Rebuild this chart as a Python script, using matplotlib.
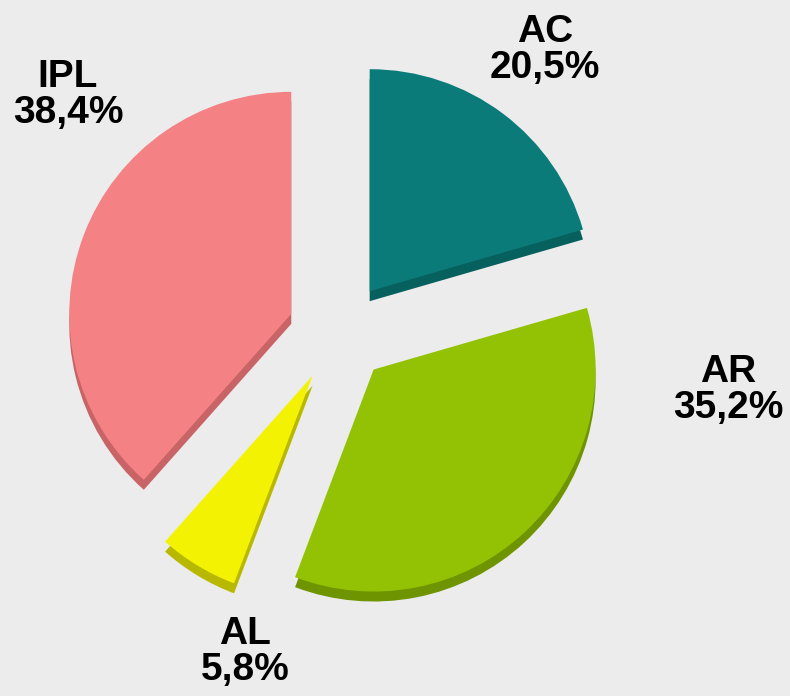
import matplotlib.pyplot as plt
import numpy as np

labels = ['AC', 'AR', 'AL', 'IPL']
values = [20.5, 35.2, 5.8, 38.4]
value_text = ['20,5%', '35,2%', '5,8%', '38,4%']
colors = ['#0b7b79', '#93c204', '#f2f202', '#f48284']
side_colors = ['#06605e', '#6e9400', '#b8b800', '#c86466']

# label positions in pixels (x, y from top)
label_pos = [(545, 50), (728, 390), (245, 652), (68, 95)]

W, H = 790, 696
cx, cy, R = 339, 332, 222

fig = plt.figure(figsize=(W / 100, H / 100), dpi=100)
fig.patch.set_facecolor('#ececec')
ax = fig.add_axes([0, 0, 1, 1])
ax.set_facecolor('#ececec')
ax.set_xlim(-cx / R, (W - cx) / R)
ax.set_ylim(-(H - cy) / R, cy / R)
ax.set_aspect('equal')
ax.axis('off')

explode = [0.23] * len(values)

# side (thickness) of the 3d pie
ax.pie(values, explode=explode, colors=side_colors, startangle=90,
       counterclock=False, radius=1.0, center=(0, -0.045), frame=True)
# top face
ax.pie(values, explode=explode, colors=colors, startangle=90,
       counterclock=False, radius=1.0, center=(0, 0), frame=True)

ax.set_xlim(-cx / R, (W - cx) / R)
ax.set_ylim(-(H - cy) / R, cy / R)
ax.axis('off')

for lab, txt, (px, py) in zip(labels, value_text, label_pos):
    fig.text(px / W, 1 - py / H, lab + '\n' + txt, ha='center', va='center',
             fontsize=28, fontweight='bold', family='Liberation Sans',
             linespacing=1.0)

fig.savefig('out.png', dpi=100, facecolor=fig.get_facecolor())
